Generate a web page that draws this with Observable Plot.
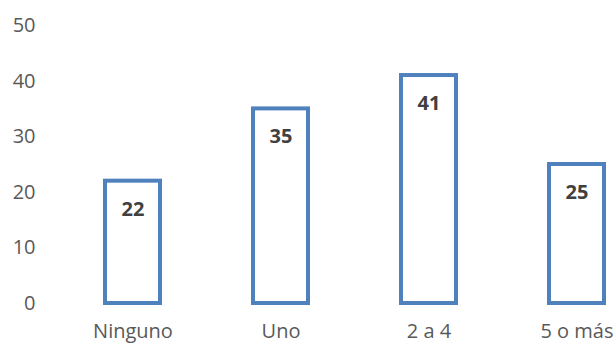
<!DOCTYPE html>
<html><head><meta charset="utf-8">
<script src="https://cdn.jsdelivr.net/npm/d3@7"></script>
<script src="https://cdn.jsdelivr.net/npm/@observablehq/plot@0.6"></script>
<style>body{margin:0;background:#fff}</style>
</head><body><div id="chart"></div>
<script>
const categories = ["Ninguno", "Uno", "2 a 4", "5 o más"];
const values = [22, 35, 41, 25];
const yTicks = [0, 10, 20, 30, 40, 50];

const data = categories.map((c, i) => ({cat: c, v: values[i]}));

const chart = Plot.plot({
  width: 616, height: 345,
  marginLeft: 104, marginRight: 12, marginTop: 25, marginBottom: 42,
  style: {fontFamily: "Open Sans, sans-serif", fontSize: "20px", color: "#595959", background: "#fff"},
  x: {domain: categories, paddingInner: 0.63, paddingOuter: 0, label: null},
  y: {domain: [0, 50], ticks: yTicks, label: null},
  marks: [
    Plot.axisY({ticks: yTicks, tickSize: 0, tickPadding: 69, label: null, fill: "#595959", fontSize: 20}),
    Plot.axisX({tickSize: 0, tickPadding: 20, label: null, fill: "#595959", fontSize: 20}),
    Plot.barY(data, {x: "cat", y: "v", fill: "white", stroke: "#4F81BD", strokeWidth: 4, inset: 0}),
    Plot.text(data, {x: "cat", y: "v", text: d => String(d.v), dy: 28, fontWeight: "bold", fill: "#404040", fontSize: 20})
  ]
});
document.getElementById("chart").append(chart);
</script>
</body></html>
